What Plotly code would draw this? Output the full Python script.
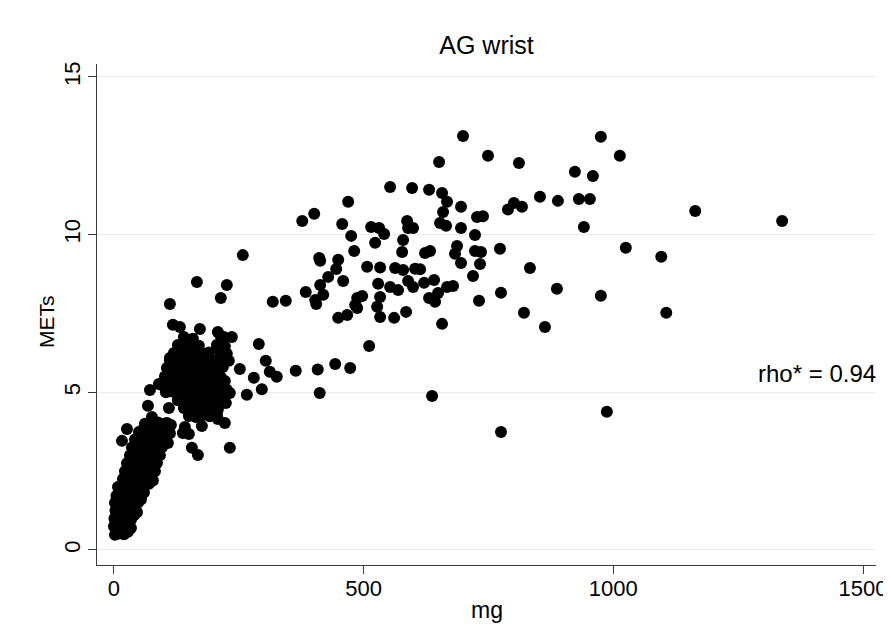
import plotly.graph_objects as go

# ---- data: accelerometer (mg) vs METs ----
# low-intensity band
band_mg = [2, 10, 20, 28, 0, 8, 16, 26, 34, 1, 9, 18, 27, 34, 40, 3, 12, 22, 32, 40, 46,
           2, 10, 20, 30, 40, 48, 54, 5, 15, 26, 36, 46, 54, 60, 8, 16, 26, 36, 48, 60, 70,
           18, 28, 40, 50, 62, 74, 78, 22, 34, 46, 58, 70, 82, 26, 38, 50, 62, 74, 86,
           32, 44, 56, 68, 80, 92, 36, 50, 62, 74, 86, 96, 42, 54, 66, 78, 90, 100,
           50, 64, 76, 88, 100, 112, 62, 74, 88, 100, 114,
           26, 16, 58, 82, 106, 142, 138, 176, 156, 168, 108, 150, 222, 232, 208, 224,
           232, 110, 68, 76, 72, 90, 112, 106, 96]
band_mets = [0.48, 0.52, 0.5, 0.58, 0.75, 0.78, 0.72, 0.8, 0.7, 1.0, 1.02, 0.98, 1.05, 0.96, 1.1,
             1.25, 1.28, 1.22, 1.3, 1.24, 1.2, 1.5, 1.55, 1.48, 1.52, 1.46, 1.5, 1.6,
             1.72, 1.78, 1.75, 1.8, 1.74, 1.7, 1.82, 2.0, 2.05, 1.98, 2.02, 2.06, 2.0, 2.1,
             2.25, 2.28, 2.22, 2.3, 2.24, 2.28, 2.2, 2.5, 2.55, 2.48, 2.52, 2.46, 2.5,
             2.75, 2.72, 2.8, 2.74, 2.78, 2.76, 3.0, 3.05, 2.98, 3.02, 3.06, 3.0,
             3.25, 3.28, 3.22, 3.3, 3.24, 3.26, 3.5, 3.52, 3.48, 3.55, 3.5, 3.46,
             3.74, 3.78, 3.72, 3.8, 3.76, 3.7, 4.0, 3.98, 4.04, 4.0, 3.96,
             3.84, 3.46, 3.81, 4.03, 4.03, 3.9, 3.71, 3.93, 3.24, 3.01, 3.39, 3.68, 4.03, 3.24, 4.15, 4.66,
             4.98, 4.5, 4.57, 4.22, 5.07, 5.26, 6.09, 5.77, 5.23]

# moderate-intensity cluster
cluster_mg = [150, 164, 178, 192, 206, 140, 152, 166, 180, 194, 208,
              128, 142, 156, 170, 184, 198, 212, 104, 118, 132, 146, 160, 174, 188, 202, 216, 226,
              100, 114, 128, 142, 156, 170, 184, 198, 212, 222, 102, 116, 130, 144, 158, 172, 186, 200, 214,
              108, 122, 136, 150, 164, 178, 192, 206, 218, 112, 126, 140, 154, 168, 182, 196, 210,
              120, 134, 148, 162, 176, 190, 212, 226, 128, 142, 156, 170, 206, 222, 140, 158, 214,
              118, 132, 172, 208, 220, 236, 166, 226, 214, 112, 214, 230]
cluster_mets = [4.25, 4.22, 4.28, 4.24, 4.3, 4.5, 4.52, 4.48, 4.55, 4.5, 4.46,
                4.75, 4.78, 4.72, 4.8, 4.74, 4.76, 4.7, 5.0, 5.02, 4.98, 5.04, 5.0, 4.96, 5.02, 5.0, 4.98, 5.08,
                5.25, 5.28, 5.22, 5.26, 5.3, 5.24, 5.28, 5.22, 5.26, 5.36, 5.5, 5.52, 5.48, 5.54, 5.5, 5.46, 5.52, 5.5, 5.48,
                5.75, 5.78, 5.72, 5.76, 5.8, 5.74, 5.78, 5.72, 5.8, 6.0, 6.02, 5.98, 6.04, 6.0, 5.96, 6.02, 6.0,
                6.25, 6.28, 6.22, 6.3, 6.24, 6.26, 6.3, 6.22, 6.5, 6.52, 6.56, 6.48, 6.5, 6.46, 6.75, 6.7, 6.78,
                7.14, 7.07, 7.01, 6.91, 6.75, 6.75, 8.5, 8.4, 7.99, 7.8, 6.2, 6.0]

# high-intensity spread
spread_mg = [290, 304, 252, 312, 326, 364, 408, 280, 296, 266, 412, 443, 473, 511, 637, 775, 987,
             318, 344, 384, 403, 405, 419, 413, 429, 459, 445, 411, 413, 449, 481, 507, 533, 563, 579, 603,
             613, 529, 553, 569, 589, 599, 621, 641, 533, 527, 487, 497, 483, 449, 467, 487, 533, 561, 585,
             631, 643, 649, 667, 679, 657, 469, 377, 401, 457, 475, 515, 531, 541, 587, 589, 599, 523, 579,
             577, 623, 633, 687, 683, 723, 735, 733, 695, 651, 553, 597, 631, 657, 667, 659, 695, 653, 665,
             695, 727, 739, 723, 699, 975, 749, 811, 1013, 923, 959, 853, 889, 931, 953, 789, 801, 817,
             941, 773, 1025, 1096, 719, 833, 775, 731, 887, 975, 821, 863, 1164, 1338, 1106, 258]
spread_mets = [6.53, 6.0, 5.74, 5.65, 5.49, 5.68, 5.72, 5.46, 5.1, 4.92, 4.98, 5.9, 5.77, 6.47, 4.88, 3.74, 4.38,
               7.87, 7.9, 8.18, 7.93, 7.8, 8.09, 8.4, 8.66, 8.53, 8.91, 9.26, 9.17, 9.2, 9.48, 8.98, 8.96, 8.94, 8.88, 8.92,
               8.9, 8.44, 8.34, 8.24, 8.53, 8.34, 8.47, 8.56, 8.02, 7.71, 7.99, 8.05, 7.77, 7.36, 7.45, 7.67, 7.39, 7.36, 7.55,
               7.99, 7.87, 8.15, 8.34, 8.37, 7.17, 11.04, 10.43, 10.66, 10.34, 9.96, 10.24, 10.21, 10.02, 10.43, 10.21, 10.21, 9.74, 9.83,
               9.45, 9.42, 9.48, 9.64, 9.39, 9.48, 9.45, 9.07, 9.1, 12.3, 11.51, 11.48, 11.42, 11.32, 11.04, 10.72, 10.88, 10.37, 10.28,
               10.21, 10.56, 10.58, 9.99, 13.13, 13.1, 12.5, 12.27, 12.5, 11.99, 11.86, 11.2, 11.07, 11.13, 11.13, 10.8, 11.0, 10.88,
               10.24, 9.55, 9.58, 9.3, 8.69, 8.94, 8.16, 7.9, 8.28, 8.06, 7.52, 7.07, 10.75, 10.43, 7.52, 9.35]

x_ticks = [0, 500, 1000, 1500]
y_ticks = [0, 5, 10, 15]
title_text = "AG wrist"
x_title = "mg"
y_title = "METs"
rho_text = "rho* = 0.94"

mg = band_mg + cluster_mg + spread_mg
mets = band_mets + cluster_mets + spread_mets

FONT = "Liberation Sans, Arial, sans-serif"

fig = go.Figure()
fig.add_trace(go.Scatter(
    x=mg, y=mets, mode="markers",
    marker=dict(color="black", size=12, line=dict(width=0)),
    showlegend=False, hoverinfo="x+y"))

axis_common = dict(
    showline=True, linecolor="#3a3a3a", linewidth=1.3,
    ticks="outside", ticklen=8, tickwidth=1.3, tickcolor="#3a3a3a",
    zeroline=False, automargin=False,
    tickfont=dict(family=FONT, size=22, color="black"),
)

# page body has an 8px default margin; figure size/margins compensate for it
W, H = 883, 619
PLOT_W = 779   # 97 .. 876 on the page
PLOT_H = 501   # 64 .. 565 on the page
fig.update_layout(
    width=W, height=H,
    paper_bgcolor="white", plot_bgcolor="white",
    margin=dict(l=89, r=15, t=56, b=62, autoexpand=False),
    font=dict(family=FONT, color="black"),
    title=dict(text=title_text, x=0.5, xref="paper", y=1 - 37 / H, yref="container",
               xanchor="center", yanchor="middle", font=dict(family=FONT, size=25, color="black")),
    xaxis=dict(range=[-34, 1526], tickvals=x_ticks, showgrid=False,
               ticklabelstandoff=-5, **axis_common),
    yaxis=dict(range=[-0.476, 15.41], tickvals=y_ticks, tickangle=-90,
               showgrid=True, gridcolor="#ebebeb", gridwidth=1.3,
               ticklabelstandoff=-1, **axis_common),
    annotations=[
        dict(text=rho_text, xref="paper", x=1.003, xanchor="right",
             yref="y", y=5.61, yanchor="middle", showarrow=False,
             font=dict(family=FONT, size=24, color="black")),
        dict(text=x_title, xref="paper", x=0.5, xanchor="center",
             yref="paper", y=-(610 - 565) / PLOT_H, yanchor="middle", showarrow=False,
             font=dict(family=FONT, size=23, color="black")),
        dict(text=y_title, xref="paper", x=-(97 - 47) / PLOT_W, xanchor="center",
             yref="y", y=7.23, yanchor="middle", textangle=-90, showarrow=False,
             font=dict(family=FONT, size=21, color="black")),
    ],
)

fig.write_html("out.html")
